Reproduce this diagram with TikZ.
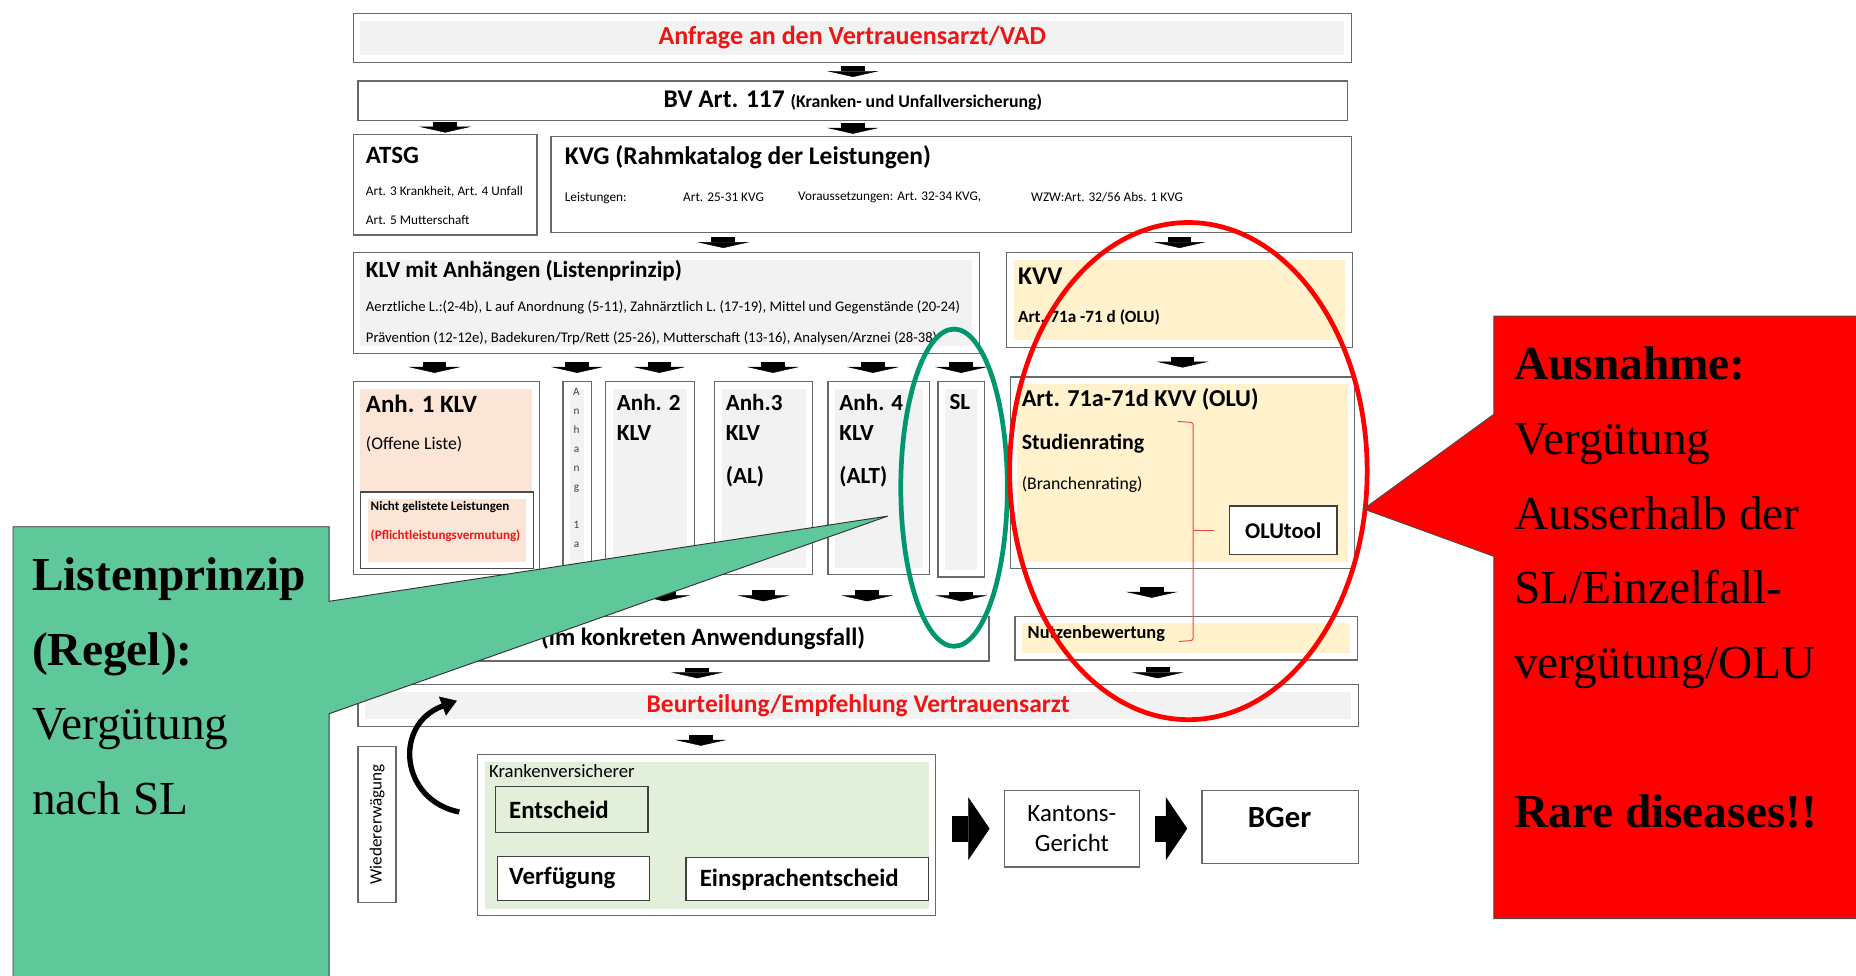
\documentclass[tikz,border=0pt]{standalone}
\usepackage{fontspec}
\setmainfont{Carlito}
\newfontfamily\timesfont{Liberation Serif}
\usepackage{tikz}
\usetikzlibrary{positioning,arrows.meta,calc}
\usepackage{xcolor}
\definecolor{BoxLine}{RGB}{105,105,105}
\definecolor{GrayFill}{RGB}{242,242,242}
\definecolor{PeachFill}{RGB}{251,229,214}
\definecolor{SandFill}{RGB}{255,242,204}
\definecolor{MintFill}{RGB}{226,239,218}
\definecolor{AlertRed}{RGB}{240,20,20}
\definecolor{CalloutRed}{RGB}{255,0,0}
\definecolor{CalloutGreen}{RGB}{95,200,155}
\definecolor{RingGreen}{RGB}{0,150,110}

\begin{document}
\begin{tikzpicture}[x=1pt, y=-1pt,
    box/.style={draw=BoxLine, line width=1.1pt, fill=white, inner sep=0pt, anchor=north west},
    inset/.style={path picture={\fill[#1] ([shift={(6pt,6pt)}]path picture bounding box.south west)
        rectangle ([shift={(-6pt,-6pt)}]path picture bounding box.north east);}},
    head/.style={anchor=west, inner sep=0pt, font=\fontsize{21}{24}\selectfont\bfseries},
    col/.style={anchor=west, inner sep=0pt, font=\fontsize{19.5}{22}\selectfont\bfseries},
    sub/.style={anchor=west, inner sep=0pt, font=\fontsize{15}{17}\selectfont},
    fine/.style={anchor=west, inner sep=0pt, font=\fontsize{12.4}{14}\selectfont},
    tiny/.style={anchor=west, inner sep=0pt, font=\fontsize{11.2}{13}\selectfont},
    note/.style={anchor=west, inner sep=0pt, font=\fontsize{11}{13}\selectfont\bfseries},
    court/.style={anchor=west, inner sep=0pt, font=\fontsize{21}{24}\selectfont\bfseries},
    blk/.style={line width=20pt, -{Triangle[length=5pt, width=44pt, line width=0.4pt]},
        shorten <=#1, shorten >=#1},
    bigarr/.style={line width=22pt, -{Triangle[length=18pt, width=53pt, line width=0.4pt]},
        shorten <=13pt, shorten >=12pt},
    callout/.style={font=\timesfont\fontsize{40}{63}\selectfont, anchor=north west,
        inner sep=0pt, align=left},
]
\useasboundingbox (0,0) rectangle (1568,824);

% boxes
\node[box, inset=GrayFill, minimum width=843pt, minimum height=41pt, text=AlertRed,
    font=\fontsize{22}{26}\selectfont\bfseries] (anfrage) at (298,11) {Anfrage an den Vertrauensarzt/VAD};
\node[box, minimum width=836pt, minimum height=33pt] (bv) at (302,68)
    {\fontsize{21.5}{24}\selectfont\bfseries BV Art. 117 \fontsize{15}{17}\selectfont(Kranken- und Unfallversicherung)};
\node[box, minimum width=155pt, minimum height=85pt] (atsg) at (298,113) {};
\node[box, minimum width=676pt, minimum height=81pt] (kvg) at (465,115) {};
\node[box, inset=GrayFill, minimum width=529pt, minimum height=85pt] (klv) at (298,213) {};
\node[box, inset=SandFill, minimum width=292pt, minimum height=80pt] (kvv) at (850,213) {};
\node[box, inset=PeachFill, minimum width=157pt, minimum height=163pt] (anh1) at (298,322) {};
\node[box, inset=PeachFill, draw=black!70, minimum width=146pt, minimum height=65pt] (nicht) at (304,415) {};
\node[box, inset=GrayFill, minimum width=24pt, minimum height=163pt] (anh1a) at (475,322) {};
\node[box, inset=GrayFill, minimum width=75pt, minimum height=163pt] (anh2) at (511,322) {};
\node[box, inset=GrayFill, minimum width=83pt, minimum height=163pt] (anh3) at (603,322) {};
\node[box, inset=GrayFill, minimum width=86pt, minimum height=163pt] (anh4) at (699,322) {};
\node[box, inset=GrayFill, minimum width=39pt, minimum height=165pt] (sl) at (792,322) {};
\node[box, inset=SandFill, minimum width=291pt, minimum height=162pt] (art71) at (853,318) {};
\node[box, draw=black!75, minimum width=91pt, minimum height=41pt,
    font=\fontsize{19}{22}\selectfont\bfseries] (olutool) at (1038,427) {OLUtool};
\node[box, minimum width=537pt, minimum height=38pt] (konkret) at (298,520) {};
\node[box, inset=SandFill, minimum width=289pt, minimum height=37pt] (nutzen) at (857,520) {};
\node[box, inset=GrayFill, minimum width=845pt, minimum height=35pt, text=AlertRed,
    font=\fontsize{21.5}{24}\selectfont\bfseries] (beurteilung) at (302,578) {Beurteilung/Empfehlung Vertrauensarzt};
\node[box, minimum width=32pt, minimum height=132pt] (wieder) at (302,630) {};
\node[box, inset=MintFill, minimum width=387pt, minimum height=136pt] (kv) at (403,637) {};
\node[box, fill=MintFill, draw=black!75, minimum width=129pt, minimum height=39pt] (entscheid) at (418,664) {};
\node[box, draw=black!75, minimum width=128pt, minimum height=37pt] (verfuegung) at (420,723) {};
\node[box, draw=black!75, minimum width=205pt, minimum height=36pt] (einsprache) at (579,724) {};
\node[box, minimum width=114pt, minimum height=65pt, align=center,
    font=\fontsize{21}{26}\selectfont] (kanton) at (848,667) {Kantons-\\Gericht};
\node[box, minimum width=132pt, minimum height=62pt] (bger) at (1015,667) {};

% texts in the boxes
\node[head] (atsg-t) at (309,131) {ATSG};
\node[tiny] (atsg-1) at (309,162) {Art. 3 Krankheit, Art. 4 Unfall};
\node[tiny] (atsg-2) at (309,186) {Art. 5 Mutterschaft};
\node[head, font=\fontsize{21.5}{24}\selectfont\bfseries] (kvg-t) at (477,133) {KVG (Rahmkatalog der Leistungen)};
\node[tiny] (kvg-1) at (477,167) {Leistungen:};
\node[tiny] (kvg-2) at (577,167) {Art. 25-31 KVG};
\node[tiny] (kvg-3) at (674,167) {Voraussetzungen: Art. 32-34 KVG,};
\node[tiny] (kvg-4) at (871,167) {WZW:Art. 32/56 Abs. 1 KVG};
\node[col] (klv-t) at (309,229) {KLV mit Anhängen (Listenprinzip)};
\node[fine] (klv-1) at (309,260) {Aerztliche L.:(2-4b), L auf Anordnung (5-11), Zahnärztlich L. (17-19), Mittel und Gegenstände (20-24)};
\node[fine] (klv-2) at (309,286) {Prävention (12-12e), Badekuren/Trp/Rett (25-26), Mutterschaft (13-16), Analysen/Arznei (28-38)};
\node[head, font=\fontsize{21.5}{24}\selectfont\bfseries] (kvv-t) at (860,233) {KVV};
\node[sub, font=\fontsize{14.5}{16}\selectfont\bfseries] (kvv-1) at (860,268) {Art. 71a -71 d (OLU)};
\node[head] (anh1-t) at (309,341) {Anh. 1 KLV};
\node[sub] (anh1-s) at (309,375) {(Offene Liste)};
\node[note] (nicht-1) at (313,428) {Nicht gelistete Leistungen};
\node[note, text=AlertRed] (nicht-2) at (313,453) {(Pflichtleistungsvermutung)};
\node[anchor=north, inner sep=0pt, align=center, text=black!75,
    font=\fontsize{9.5}{16}\selectfont] (anh1a-t) at (487,328) {A\\n\\h\\a\\n\\g\\[16pt]1\\a};
\node[col] (anh2-t) at (521,340) {Anh. 2};
\node[col] (anh2-k) at (521,366) {KLV};
\node[col] (anh3-t) at (613,340) {Anh.3};
\node[col] (anh3-k) at (613,366) {KLV};
\node[col] (anh3-a) at (613,403) {(AL)};
\node[col] (anh4-t) at (709,340) {Anh. 4};
\node[col] (anh4-k) at (709,366) {KLV};
\node[col] (anh4-a) at (709,403) {(ALT)};
\node[col] (sl-t) at (802,340) {SL};
\node[head, font=\fontsize{20.5}{24}\selectfont\bfseries] (art71-t) at (863,337) {Art. 71a-71d KVV (OLU)};
\node[col, font=\fontsize{18.5}{21}\selectfont\bfseries] (art71-s) at (863,375) {Studienrating};
\node[sub] (art71-b) at (863,409) {(Branchenrating)};
\node[note, font=\fontsize{15.5}{18}\selectfont\bfseries] (nutzen-t) at (868,535) {Nutzenbewertung};
\node[head, anchor=east] (konkret-t) at (731,539) {(im konkreten Anwendungsfall)};
\node[rotate=90, inner sep=0pt, font=\fontsize{14.5}{16}\selectfont] (wieder-t) at (wieder.center) {Wiedererwägung};
\node[sub, font=\fontsize{15.8}{18}\selectfont] (kv-t) at (413,651) {Krankenversicherer};
\node[court] (entscheid-t) at (430,684) {Entscheid};
\node[court] (verfuegung-t) at (430,742) {Verfügung};
\node[court] (einsprache-t) at (591,743) {Einsprachentscheid};
\node[inner sep=0pt, font=\fontsize{26}{28}\selectfont\bfseries] (bger-t) at (1081,691) {BGer};

% block arrows
\draw[blk=3pt] (anfrage.south -| bv.north) -- (bv.north);
\draw[blk=1pt] (bv.south -| atsg.north) -- (atsg.north);
\draw[blk=2pt] (bv.south) -- (bv.south |- kvg.north);
\draw[blk=3.5pt] ([xshift=48pt]klv.north |- kvg.south) -- ([xshift=48pt]klv.north);
\draw[blk=3.5pt] (kvg.south -| kvv.north) -- (kvv.north);
\draw[blk=7pt] ([xshift=-10pt]klv.south -| anh1.north) -- ([xshift=-10pt]anh1.north);
\draw[blk=7pt] (klv.south -| anh1a.north) -- (anh1a.north);
\draw[blk=7pt] ([xshift=8pt]klv.south -| anh2.north) -- ([xshift=8pt]anh2.north);
\draw[blk=7pt] ([xshift=8pt]klv.south -| anh3.north) -- ([xshift=8pt]anh3.north);
\draw[blk=7pt] ([xshift=-5pt]klv.south -| anh4.north) -- ([xshift=-5pt]anh4.north);
\draw[blk=7pt] (klv.south -| sl.north) -- (sl.north);
\draw[blk=7.5pt] (kvv.south -| art71.north) -- (art71.north);
\draw[blk=12pt] ([xshift=12pt]anh2.south) -- ([xshift=12pt]anh2.south |- konkret.north);
\draw[blk=12pt] (anh3.south) -- (anh3.south |- konkret.north);
\draw[blk=12pt] ([xshift=-10pt]anh4.south) -- ([xshift=-10pt]anh4.south |- konkret.north);
\draw[blk=12pt] (sl.south) -- (sl.south |- konkret.north);
\draw[blk=15pt] ([xshift=-26pt]art71.south) -- ([xshift=-26pt]art71.south |- nutzen.north);
\draw[blk=5pt] ([xshift=22pt]konkret.south) -- ([xshift=22pt]konkret.south |- beurteilung.north);
\draw[blk=5pt] ([xshift=-24pt]nutzen.south) -- ([xshift=-24pt]nutzen.south |- beurteilung.north);
\draw[blk=7pt] ([xshift=-5pt]beurteilung.south -| kv.north) -- ([xshift=-5pt]kv.north);
\draw[bigarr] (kv.east |- kanton.west) -- (kanton.west);
\draw[bigarr] (kanton.east) -- (bger.west |- kanton.east);

% Wiedererwaegung loop
\coordinate (loop-a) at (388,686);
\coordinate (loop-b) at (386,592);
\draw[line width=4.5pt, -{Triangle[length=13pt, width=17pt, line width=0.4pt]}]
    (loop-a) .. controls (338,676) and (332,612) .. (loop-b);

% brace
\draw[AlertRed!80, line width=0.8pt, rounded corners=2pt]
    (995,356) -- (1008,357) -- (1008,541) -- (996,542);
\draw[AlertRed!80, line width=0.8pt] (1008,448) -- (1026,448);

% rings
\draw[RingGreen, line width=4pt] (806,412) ellipse [x radius=45pt, y radius=134pt];
\draw[CalloutRed, line width=4pt] (1004,398) ellipse [x radius=151pt, y radius=210pt];

% callouts
\path[draw=black!80, line width=0.8pt, fill=CalloutGreen]
    (11,445) -- (278,445) -- (278,508) -- (750,436) -- (278,603) -- (278,830) -- (11,830) -- cycle;
\node[callout] (regel) at (27,471)
    {\textbf{Listenprinzip}\\\textbf{(Regel):}\\Vergütung\\nach SL};
\path[draw=black!70, line width=0.8pt, fill=CalloutRed]
    (1262,267) -- (1575,267) -- (1575,776) -- (1262,776) -- (1262,470) -- (1152,430) -- (1262,350) -- cycle;
\node[callout] (ausnahme) at (1279,293)
    {\textbf{Ausnahme:}\\Vergütung\\Ausserhalb der\\SL/Einzelfall-\\vergütung/OLU\\[63pt]\textbf{Rare diseases!!}};
\end{tikzpicture}
\end{document}
